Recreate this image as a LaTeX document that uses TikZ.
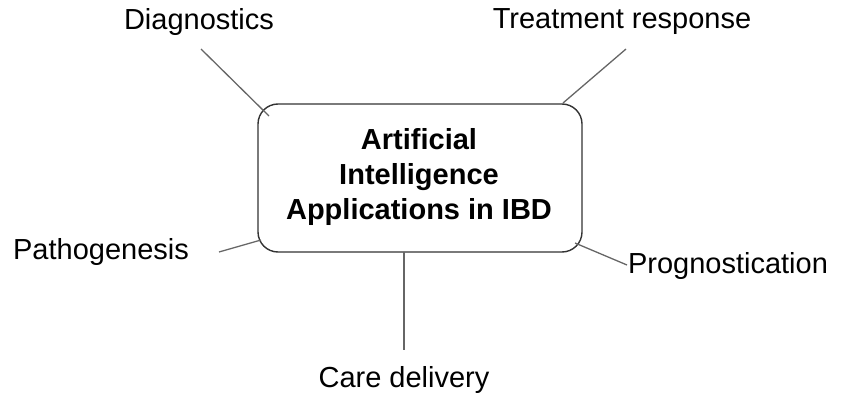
\documentclass[tikz,border=0pt]{standalone}
\usepackage{fontspec}
\setmainfont{Liberation Sans}
\begin{document}
\begin{tikzpicture}[x=1pt,y=-1pt,
  lbl/.style={inner sep=0pt, font=\fontsize{29}{34}\selectfont},
  hub/.style={draw=black!80, line width=1.4pt, rounded corners=20pt, inner sep=0pt, minimum width=324pt, minimum height=148pt},
  spoke/.style={draw=black!60, line width=1.3pt}]
\useasboundingbox (0,0) rectangle (849,401);
\node[hub] (c) at (420,178) {};
\node[inner sep=0pt, align=center, font=\fontsize{29}{35}\selectfont\bfseries] (ct) at (419,177) {Artificial\\Intelligence\\Applications in IBD};
\node[lbl] (d) at (199,22) {Diagnostics};
\node[lbl] (t) at (622,22) {Treatment response};
\node[lbl] (p) at (101,252) {Pathogenesis};
\node[lbl] (g) at (728,266) {Prognostication};
\node[lbl] (cd) at (404,380) {Care delivery};
\coordinate (d1) at (201,49);
\coordinate (d2) at (269,116);
\coordinate (t1) at (626,49);
\coordinate (t2) at (563,103);
\coordinate (p1) at (219,252);
\coordinate (p2) at (261,240);
\coordinate (g1) at (575,243);
\coordinate (g2) at (627,265);
\coordinate (cd1) at (404,252);
\coordinate (cd2) at (404,350);
\draw[spoke] (d1) -- (d2);
\draw[spoke] (t1) -- (t2);
\draw[spoke] (p1) -- (p2);
\draw[spoke] (g1) -- (g2);
\draw[spoke] (cd1) -- (cd2);
\end{tikzpicture}
\end{document}
